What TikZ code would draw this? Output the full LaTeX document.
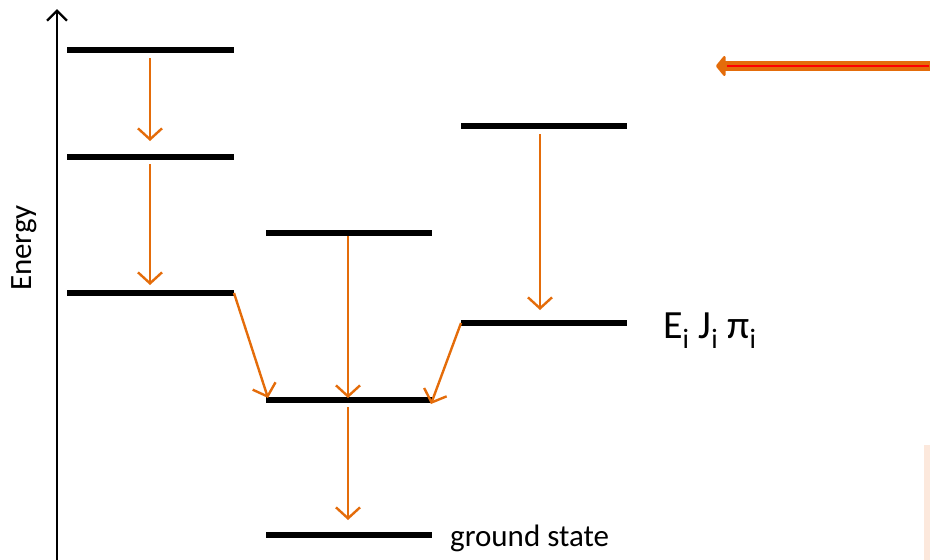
\documentclass[tikz,border=0pt]{standalone}
\usepackage{fontspec}
\setmainfont{Carlito}
\usetikzlibrary{arrows.meta}
\definecolor{orng}{HTML}{E46C0A}
\definecolor{peach}{HTML}{FCE8DC}
\tikzset{
  level/.style={line width=5.5pt, black},
  trans/.style={orng, line width=2.4pt, -{Straight Barb[length=11pt,width=24pt,line width=2.4pt]}},
}
\begin{document}
\begin{tikzpicture}[x=1pt,y=-1pt]
\useasboundingbox (0,0) rectangle (930,560);
\fill[peach] (924,445) rectangle (930,560);
% axis
\coordinate (ab) at (57,560);
\coordinate (at) at (57,9);
\draw[line width=2.4pt, -{Straight Barb[length=10pt,width=20pt,line width=2.4pt]}] (ab) -- (at);
\node[rotate=90, font=\fontsize{31}{33}\selectfont] (en) at (24,248) {Energy};
% levels
\coordinate (L1a) at (67,50);  \coordinate (L1b) at (234,50);
\coordinate (L2a) at (67,157); \coordinate (L2b) at (234,157);
\coordinate (L3a) at (67,293); \coordinate (L3b) at (234,293);
\coordinate (M1a) at (266,233); \coordinate (M1b) at (432,233);
\coordinate (M2a) at (266,400); \coordinate (M2b) at (432,400);
\coordinate (Ga) at (266,535); \coordinate (Gb) at (432,535);
\coordinate (R1a) at (461,126); \coordinate (R1b) at (627,126);
\coordinate (R2a) at (461,323); \coordinate (R2b) at (627,323);
\foreach \l in {L1,L2,L3,M1,M2,G,R1,R2} \draw[level] (\l a) -- (\l b);
% transitions
\coordinate (t1s) at (150,58);  \coordinate (t1e) at (150,141);
\coordinate (t2s) at (150,164); \coordinate (t2e) at (150,285);
\coordinate (t4s) at (348,236); \coordinate (t4e) at (348,398);
\coordinate (t6s) at (540,134); \coordinate (t6e) at (540,310);
\coordinate (t7s) at (348,407); \coordinate (t7e) at (348,520);
\draw[trans] (t1s) -- (t1e);
\draw[trans] (t2s) -- (t2e);
\draw[trans] (L3b) -- (268,398);
\draw[trans] (t4s) -- (t4e);
\draw[trans] (R2a) -- (431,404);
\draw[trans] (t6s) -- (t6e);
\draw[trans] (t7s) -- (t7e);
% labels
\node[anchor=base west, font=\fontsize{31}{33}\selectfont, inner sep=0pt] (gs) at (450,546) {ground state};
\node[anchor=base west, font=\fontsize{40}{42}\selectfont, inner sep=0pt] (ej) at (663,338) {E\textsubscript{i} J\textsubscript{i} π\textsubscript{i}};
% big arrow
\coordinate (bs) at (930,66);
\coordinate (be) at (716,66);
\draw[orng, line width=10pt, -{Triangle[length=10pt,width=24pt,round]}] (bs) -- (be);
\draw[red, line width=2.5pt] (929,66) -- (727,66);
\end{tikzpicture}
\end{document}
